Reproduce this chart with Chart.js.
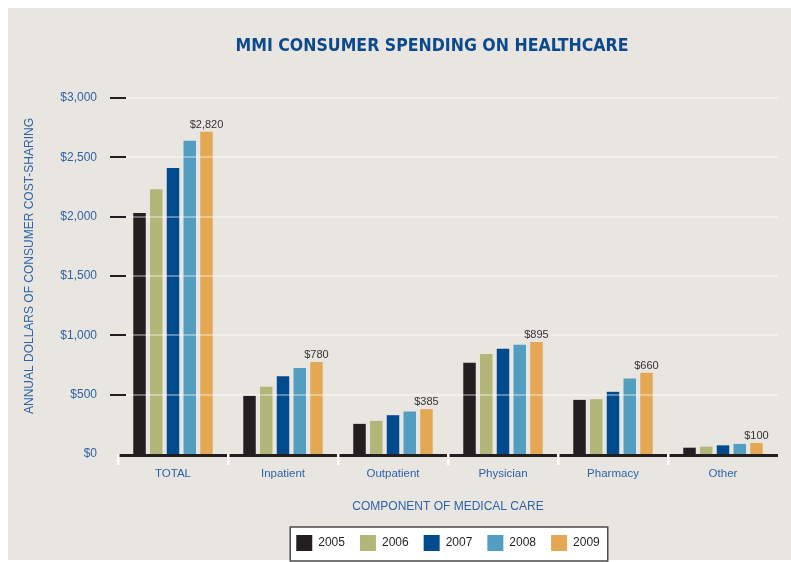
<!DOCTYPE html>
<html>
<head>
<meta charset="utf-8">
<script src="https://cdn.jsdelivr.net/npm/chart.js@4"></script>
<style>
  html, body { margin: 0; padding: 0; background: #ffffff; }
  #wrap { width: 791px; height: 562px; }
</style>
</head>
<body>
<div id="wrap"><canvas id="c" width="791" height="562"></canvas></div>
<script>
const categories = ['TOTAL', 'Inpatient', 'Outpatient', 'Physician', 'Pharmacy', 'Other'];
const years = ['2005', '2006', '2007', '2008', '2009'];
const values2005 = [2030, 490, 254, 769, 456, 53];
const values2006 = [2230, 566, 279, 842, 462, 62];
const values2007 = [2410, 656, 327, 887, 524, 73];
const values2008 = [2640, 724, 358, 921, 637, 85];
const values2009 = [2715, 775, 378, 944, 684, 93];
const labels2009 = ['$2,820', '$780', '$385', '$895', '$660', '$100'];
const yTicks = [0, 500, 1000, 1500, 2000, 2500, 3000];
const titleText = 'MMI CONSUMER SPENDING ON HEALTHCARE';
const xTitleText = 'COMPONENT OF MEDICAL CARE';
const yTitleText = 'ANNUAL DOLLARS OF CONSUMER COST-SHARING';

const colors = ['#231f20', '#b2b678', '#004b8d', '#529dc0', '#e4a855'];
const seriesValues = [values2005, values2006, values2007, values2008, values2009];
const BLUE = '#2f63a6';
const FONT = "'Liberation Sans', Arial, Helvetica, sans-serif";

const decor = {
  id: 'decor',
  beforeDraw(chart) {
    const ctx = chart.ctx;
    ctx.save();
    ctx.fillStyle = '#ffffff';
    ctx.fillRect(0, 0, chart.width, chart.height);
    ctx.fillStyle = '#e9e6e1';
    ctx.fillRect(8, 8, chart.width - 8, 552);
    // title, horizontally fitted
    ctx.font = "bold 18px 'Liberation Sans Narrow', 'DejaVu Sans Condensed', 'Liberation Sans', Arial, sans-serif";
    ctx.fillStyle = '#0d4a8b';
    ctx.textBaseline = 'middle';
    ctx.textAlign = 'left';
    const w = ctx.measureText(titleText).width;
    const target = 393;
    ctx.translate(432 - target / 2, 46);
    ctx.scale(target / w, 1);
    ctx.fillText(titleText, 0, 0);
    ctx.restore();

    // y axis title
    ctx.save();
    ctx.font = '12px ' + FONT;
    ctx.fillStyle = BLUE;
    ctx.textAlign = 'center';
    ctx.textBaseline = 'middle';
    ctx.translate(30, 266);
    ctx.rotate(-Math.PI / 2);
    ctx.fillText(yTitleText, 0, 0);
    ctx.restore();

    // legend frame
    const hb = chart.legend && chart.legend.legendHitBoxes;
    if (hb && hb.length) {
      const first = hb[0], last = hb[hb.length - 1];
      const l = first.left - 6, r = last.left + last.width + 8;
      const t = first.top - 8, b = first.top + first.height + 10;
      ctx.save();
      ctx.fillStyle = '#ffffff';
      ctx.fillRect(l, t, r - l, b - t);
      ctx.strokeStyle = '#4a4a4a';
      ctx.lineWidth = 1.5;
      ctx.strokeRect(l, t, r - l, b - t);
      ctx.restore();
    }
  },
  afterDatasetsDraw(chart) {
    const ctx = chart.ctx;
    const ys = chart.scales.y;
    const area = chart.chartArea;
    ctx.save();
    // gridlines over bars + tick marks
    yTicks.forEach(v => {
      if (v === 0) return;
      const y = Math.round(ys.getPixelForValue(v));
      ctx.fillStyle = 'rgba(255,255,255,0.35)';
      ctx.fillRect(area.left + 8, y - 1, area.right - area.left - 8, 2);
      ctx.fillStyle = '#231f20';
      ctx.fillRect(area.left - 8, y - 1, 16, 2);
    });
    // baseline
    const y0 = ys.getPixelForValue(0);
    ctx.fillStyle = '#231f20';
    ctx.fillRect(area.left, y0, area.right - area.left, 3);
    // white separators
    const step = (area.right - area.left) / categories.length;
    ctx.fillStyle = '#ffffff';
    for (let i = 0; i < categories.length; i++) {
      const x = area.left + step * i;
      ctx.fillRect(x - 1, y0, 2.5, 11);
    }
    // data labels on 2009 bars
    const meta = chart.getDatasetMeta(4);
    ctx.font = '11px ' + FONT;
    ctx.fillStyle = '#333333';
    ctx.textAlign = 'center';
    ctx.textBaseline = 'alphabetic';
    meta.data.forEach((bar, i) => {
      ctx.fillText(labels2009[i], bar.x, bar.y - 4);
    });
    ctx.restore();
  }
};

new Chart(document.getElementById('c'), {
  type: 'bar',
  data: {
    labels: categories,
    datasets: years.map((yr, i) => ({
      label: yr,
      data: seriesValues[i],
      backgroundColor: colors[i],
      borderWidth: 0,
      categoryPercentage: 0.761,
      barPercentage: 0.746
    }))
  },
  options: {
    responsive: false,
    animation: false,
    events: [],
    layout: { padding: { top: 98, right: 13, bottom: 1, left: 0 } },
    scales: {
      x: {
        grid: { display: false },
        border: { display: false },
        ticks: { color: BLUE, font: { size: 11.5, family: FONT }, padding: 5, maxRotation: 0 },
        title: {
          display: true,
          text: xTitleText,
          color: BLUE,
          font: { size: 12, family: FONT },
          padding: { top: 0, bottom: 6 }
        },
        afterFit(scale) { scale.height = 66; }
      },
      y: {
        min: 0,
        max: 3000,
        grid: { display: false },
        border: { display: false },
        ticks: {
          stepSize: 500,
          color: BLUE,
          padding: 13,
          font: { size: 12, family: FONT },
          callback: v => '$' + Number(v).toLocaleString('en-US')
        },
        afterFit(scale) { scale.width = 118; }
      }
    },
    plugins: {
      title: { display: false },
      tooltip: { enabled: false },
      legend: {
        display: true,
        position: 'bottom',
        fullSize: false,
        labels: {
          boxWidth: 16,
          boxHeight: 16,
          padding: 15,
          color: '#231f20',
          font: { size: 12, family: FONT }
        }
      }
    }
  },
  plugins: [decor]
});
</script>
</body>
</html>
